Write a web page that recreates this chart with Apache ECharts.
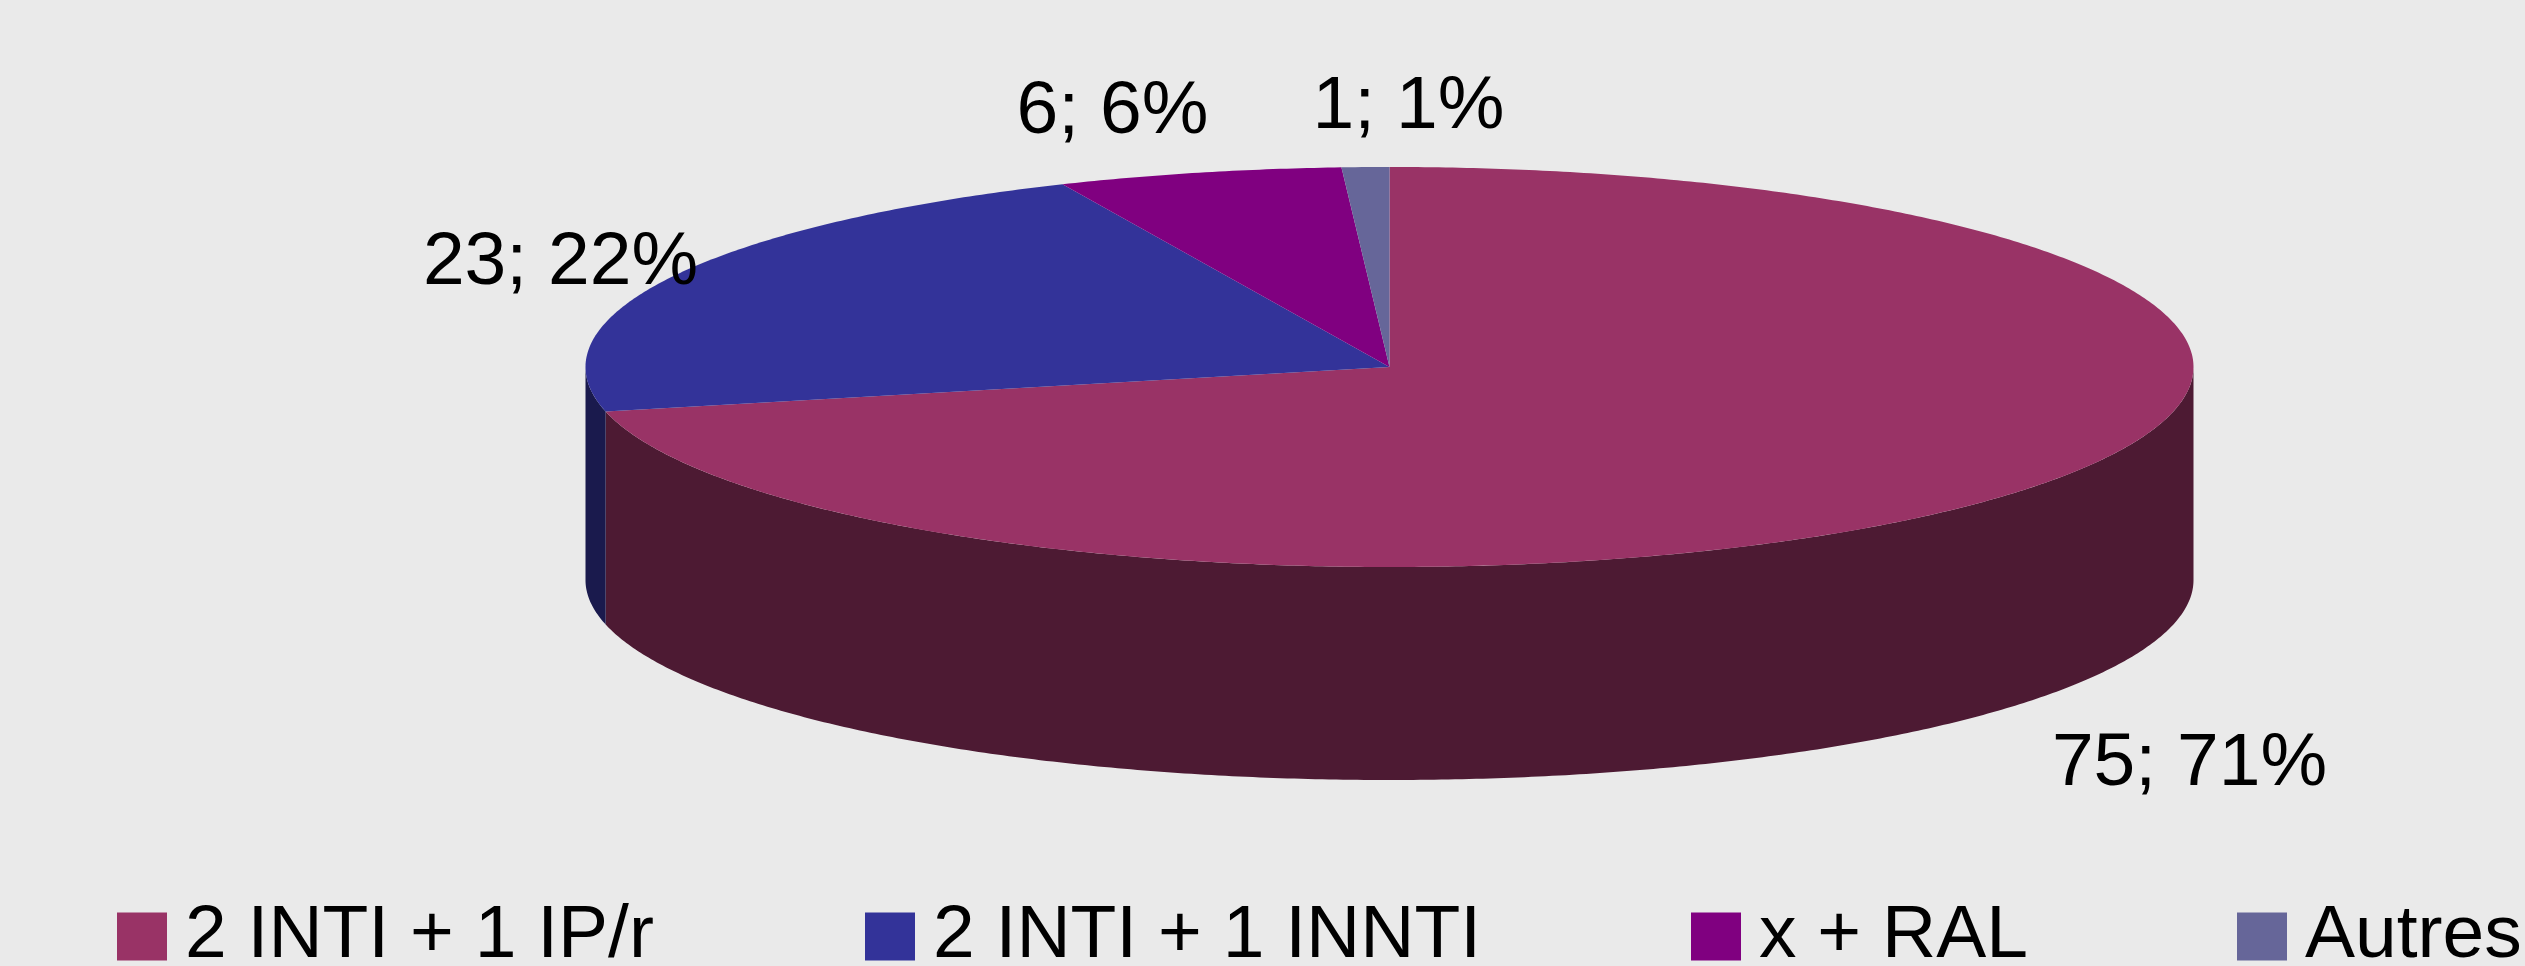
<!DOCTYPE html>
<html><head><meta charset="utf-8">
<style>html,body{margin:0;padding:0;background:#eaeaea}#c{width:2525px;height:966px}</style>
<script src="https://cdn.jsdelivr.net/npm/echarts@6/dist/echarts.min.js"></script>
</head><body><div id="c"></div>
<script>
const categories = ['2 INTI + 1 IP/r', '2 INTI + 1 INNTI', 'x + RAL', 'Autres'];
const values = [75, 23, 6, 1];
const topColors = ['#993366', '#333399', '#800080', '#666699'];
const sideColors = ['#4d1a33', '#1a1a4d', '#400040', '#333350'];
const labelOffsets = [[800, 397], [-829, -104], [-277, -255], [19, -260]];
const legendLefts = [117, 865, 1691, 2237];

const CX = 1389.5, CY = 367, RX = 804, RY = 200, DEPTH = 213;
const total = values.reduce((a, b) => a + b, 0);
const FONT = '"Liberation Sans", Arial, sans-serif';

function pt(deg, dy) {
  const r = deg * Math.PI / 180;
  return [CX + RX * Math.sin(r), CY - RY * Math.cos(r) + (dy || 0)];
}
function arc(a, b, dy) {
  const out = [], n = Math.max(2, Math.ceil(Math.abs(b - a) * 2));
  for (let i = 0; i <= n; i++) out.push(pt(a + (b - a) * i / n, dy));
  return out;
}
let acc = 0;
const spans = values.map(v => { const s = acc; acc += v; return [s / total * 360, acc / total * 360]; });

function makeRender(idx) {
  return function (params, api) {
    const value = api.value(0);
    const [a, b] = spans[idx];
    const children = [];
    const s0 = Math.max(a, 90), s1 = Math.min(b, 270);
    if (s1 > s0) {
      children.push({
        type: 'polygon',
        shape: { points: arc(s0, s1, 0).concat(arc(s1, s0, DEPTH)) },
        style: { fill: sideColors[idx] }
      });
    }
    children.push({
      type: 'polygon',
      shape: { points: [[CX, CY]].concat(arc(a, b, 0)) },
      style: { fill: topColors[idx] }
    });
    children.push({
      type: 'text',
      z2: 10,
      style: {
        text: value + '; ' + Math.round(value / total * 100) + '%',
        x: CX + labelOffsets[idx][0],
        y: CY + labelOffsets[idx][1],
        align: 'center',
        verticalAlign: 'middle',
        fill: '#000',
        font: '75px ' + FONT
      }
    });
    return { type: 'group', children };
  };
}

const chart = echarts.init(document.getElementById('c'), null, { renderer: 'canvas' });
chart.setOption({
  animation: false,
  backgroundColor: '#eaeaea',
  legend: categories.map((name, i) => ({
    data: [name],
    left: legendLefts[i],
    top: 899,
    icon: 'rect',
    itemWidth: 50,
    itemHeight: 48,
    padding: 0,
    selectedMode: false,
    textStyle: { fontFamily: 'Liberation Sans', fontSize: 75, color: '#000', padding: [10, 0, 0, 13] }
  })),
  series: categories.map((name, i) => ({
    type: 'custom',
    name,
    coordinateSystem: 'none',
    renderItem: makeRender(i),
    itemStyle: { color: topColors[i] },
    data: [[values[i]]]
  }))
});
</script></body></html>
